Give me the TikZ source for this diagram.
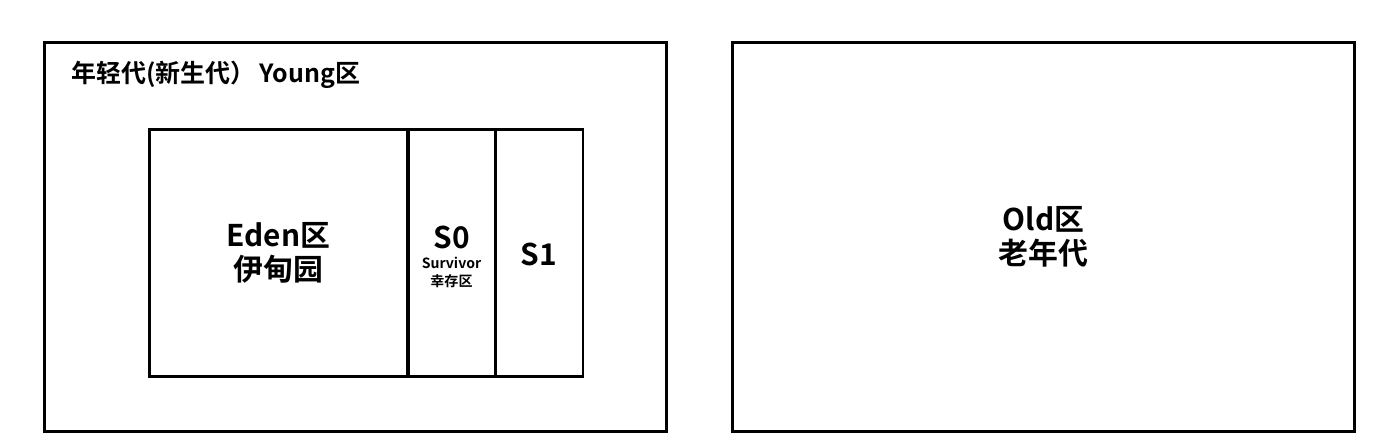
\documentclass[tikz,border=0pt]{standalone}
\usepackage{fontspec}
\setmainfont{Noto Sans CJK SC}[BoldFont={* Bold}]
\usetikzlibrary{positioning}

\tikzset{
  area/.style={draw, line width=1.7pt, inner sep=0pt, minimum width=#1},
  bigtext/.style={font=\fontsize{17}{19}\selectfont\bfseries, align=center, inner sep=0pt},
  smalltext/.style={font=\fontsize{8}{10.5}\selectfont\bfseries, align=center, inner sep=0pt}
}

\begin{document}
\begin{tikzpicture}[x=0.02cm, y=-0.02cm]
  \useasboundingbox (0,0) rectangle (1378,447);

  % Young generation
  \node[area=12.46cm, minimum height=7.8cm] (young) at (355.5,237) {};
  \node[anchor=west, font=\fontsize{14.2}{16}\selectfont\bfseries, inner sep=0pt] (youngtitle) at (71,75) {年轻代(新生代）\,Young区};

  \node[area=5.18cm, minimum height=4.96cm] (eden) at (278.5,253) {};
  \node[area=1.74cm, minimum height=4.96cm] (szero) at (451.5,253) {};
  \node[area=1.76cm, minimum height=4.96cm] (sone) at (539,253) {};

  \node[bigtext] (edentext) at (278.5,253) {Eden区\\伊甸园};
  \node[bigtext] (szerotext) at (451.5,237) {S0};
  \node[smalltext, below=4.5pt of szerotext] (survtext) {Survivor\\幸存区};
  \node[bigtext] (sonetext) at (539,254) {S1};

  % Old generation
  \node[area=12.46cm, minimum height=7.8cm] (old) at (1043.5,237) {};
  \node[bigtext] (oldtext) at (1043.5,237) {Old区\\老年代};
\end{tikzpicture}
\end{document}
